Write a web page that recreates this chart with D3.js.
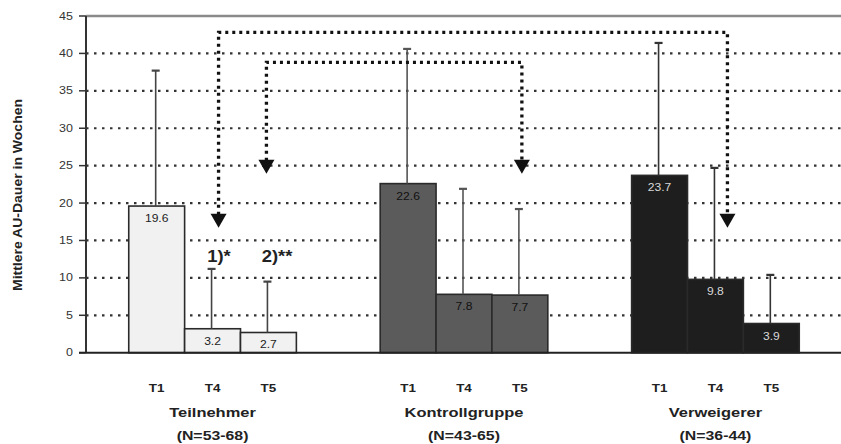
<!DOCTYPE html>
<html lang="de">
<head>
<meta charset="UTF-8">
<script src="https://cdn.jsdelivr.net/npm/d3@7"></script>
<style>
  body { margin: 0; background: #fff; }
  svg { display: block; font-family: "Liberation Sans", Arial, sans-serif; }
</style>
</head>
<body>
<script>
// data
var groups = ["Teilnehmer", "Kontrollgruppe", "Verweigerer"];
var groupN = ["(N=53-68)", "(N=43-65)", "(N=36-44)"];
var times = ["T1", "T4", "T5"];
var teilnehmer = [19.6, 3.2, 2.7];
var kontrollgruppe = [22.6, 7.8, 7.7];
var verweigerer = [23.7, 9.8, 3.9];
var teilnehmerSD = [18.1, 8.0, 6.8];
var kontrollgruppeSD = [18.0, 14.1, 11.5];
var verweigererSD = [17.7, 14.9, 6.5];
var yTicks = [0, 5, 10, 15, 20, 25, 30, 35, 40, 45];

var width = 841, height = 444,
    plotLeft = 86, plotRight = 842, plotTop = 16, plotBottom = 352.7,
    sx = 1.22; // text in the picture is stretched sideways

var values = [teilnehmer, kontrollgruppe, verweigerer],
    sds = [teilnehmerSD, kontrollgruppeSD, verweigererSD],
    fills = ["#f1f1f1", "#5b5b5b", "#1e1e1e"],
    labelColors = ["#222", "#111", "#d8d8d8"],
    whiskerColors = ["#444", "#555", "#333"];

var svg = d3.select("body").append("svg").attr("width", width).attr("height", height);

var x0 = d3.scaleBand().domain(groups).range([plotLeft, plotRight]).paddingInner(1 / 3).paddingOuter(0.17);
var x1 = d3.scaleBand().domain(times).range([0, x0.bandwidth()]);
var y = d3.scaleLinear().domain([0, 45]).range([plotBottom, plotTop]);

// grid
svg.append("g").selectAll("line").data(yTicks.filter(function(d){ return d > 0 && d < 45 }))
  .enter().append("line")
    .attr("x1", plotLeft).attr("x2", width)
    .attr("y1", function(d){ return y(d) }).attr("y2", function(d){ return y(d) })
    .attr("stroke", "#333").attr("stroke-width", 2.2).attr("stroke-dasharray", "2.5,5.5");

// top frame line
svg.append("line").attr("x1", plotLeft).attr("x2", width).attr("y1", y(45)).attr("y2", y(45))
  .attr("stroke", "#8a8a8a").attr("stroke-width", 2.5);

// y axis ticks + labels
var yAxis = svg.append("g");
yTicks.forEach(function(t) {
  yAxis.append("line").attr("x1", plotLeft - 7).attr("x2", plotLeft).attr("y1", y(t)).attr("y2", y(t))
    .attr("stroke", "#333").attr("stroke-width", 1.5);
  yAxis.append("text").attr("transform", "translate(" + (plotLeft - 13) + "," + (y(t) + 3.5) + ") scale(1.25,1)")
    .attr("font-size", 10).attr("text-anchor", "end").attr("fill", "#333").text(t);
});

// bars
var gGroups = svg.selectAll(".grp").data(groups).enter().append("g")
  .attr("class", "grp")
  .attr("transform", function(d){ return "translate(" + x0(d) + ",0)" });

gGroups.each(function(g, gi) {
  var sel = d3.select(this);
  var rows = times.map(function(t, ti){ return {t: t, v: values[gi][ti], sd: sds[gi][ti]} });

  sel.selectAll("rect").data(rows).enter().append("rect")
    .attr("x", function(d){ return x1(d.t) })
    .attr("y", function(d){ return y(d.v) })
    .attr("width", x1.bandwidth())
    .attr("height", function(d){ return y(0) - y(d.v) })
    .attr("fill", fills[gi]).attr("stroke", "#2a2a2a").attr("stroke-width", 1.6);

  // upper error bars
  sel.selectAll(".err").data(rows).enter().append("line")
    .attr("x1", function(d){ return x1(d.t) + x1.bandwidth() / 2 - 1 })
    .attr("x2", function(d){ return x1(d.t) + x1.bandwidth() / 2 - 1 })
    .attr("y1", function(d){ return y(d.v) })
    .attr("y2", function(d){ return y(d.v + d.sd) })
    .attr("stroke", whiskerColors[gi]).attr("stroke-width", 1.6);
  sel.selectAll(".cap").data(rows).enter().append("line")
    .attr("x1", function(d){ return x1(d.t) + x1.bandwidth() / 2 - 5 })
    .attr("x2", function(d){ return x1(d.t) + x1.bandwidth() / 2 + 3 })
    .attr("y1", function(d){ return y(d.v + d.sd) })
    .attr("y2", function(d){ return y(d.v + d.sd) })
    .attr("stroke", whiskerColors[gi]).attr("stroke-width", 2.2);

  // value labels
  sel.selectAll(".val").data(rows).enter().append("text")
    .attr("transform", function(d){ return "translate(" + (x1(d.t) + x1.bandwidth() / 2) + "," + (y(d.v) + 16) + ") scale(1.1,1)" })
    .attr("font-size", 11).attr("text-anchor", "middle").attr("fill", labelColors[gi])
    .text(function(d){ return d.v.toFixed(1) });

  // time labels
  sel.selectAll(".tl").data(times).enter().append("text")
    .attr("transform", function(d){ return "translate(" + (x1(d) + x1.bandwidth() / 2) + ",392) scale(" + sx + ",1)" })
    .attr("font-size", 11).attr("font-weight", "bold").attr("text-anchor", "middle").attr("fill", "#222")
    .text(function(d){ return d });

  sel.append("text")
    .attr("transform", "translate(" + (x0.bandwidth() / 2) + ",417) scale(" + sx + ",1)")
    .attr("font-size", 13.5).attr("font-weight", "bold").attr("text-anchor", "middle").attr("fill", "#222")
    .text(g);
  sel.append("text")
    .attr("transform", "translate(" + (x0.bandwidth() / 2) + ",440) scale(" + sx + ",1)")
    .attr("font-size", 13).attr("font-weight", "bold").attr("text-anchor", "middle").attr("fill", "#222")
    .text(groupN[gi]);
});

// axes lines
svg.append("line").attr("x1", plotLeft).attr("x2", plotLeft).attr("y1", y(45)).attr("y2", y(0))
  .attr("stroke", "#333").attr("stroke-width", 2);
svg.append("line").attr("x1", plotLeft - 7).attr("x2", width).attr("y1", y(0)).attr("y2", y(0))
  .attr("stroke", "#222").attr("stroke-width", 2);

// dotted comparison arrows: group/time index, pixel nudge, level and tip values
var arrows = [
  {from: [0, 1], fdx: 6, to: [2, 1], tdx: 12, level: 42.8, tip: 16.7},
  {from: [0, 2], fdx: -2, to: [1, 2], tdx: 2, level: 38.8, tip: 23.9}
];
function cx(gt, dx) { return x0(groups[gt[0]]) + x1(times[gt[1]]) + x1.bandwidth() / 2 + dx; }
arrows.forEach(function(a) {
  var xa = cx(a.from, a.fdx), xb = cx(a.to, a.tdx), yl = y(a.level), yt = y(a.tip);
  svg.append("path")
    .attr("d", "M" + xa + "," + (yt - 13) + "V" + yl + "H" + xb + "V" + (yt - 13))
    .attr("fill", "none").attr("stroke", "#111").attr("stroke-width", 3.3).attr("stroke-dasharray", "3,4");
  [xa, xb].forEach(function(xx) {
    svg.append("path")
      .attr("d", "M" + (xx - 8) + "," + (yt - 14) + "L" + (xx + 8) + "," + (yt - 14) + "L" + xx + "," + yt + "Z")
      .attr("fill", "#111");
  });
});

// significance notes
svg.append("text").attr("transform", "translate(219,262) scale(1.15,1)")
  .attr("font-size", 16).attr("font-weight", "bold").attr("text-anchor", "middle").attr("fill", "#222").text("1)*");
svg.append("text").attr("transform", "translate(277,262) scale(1.15,1)")
  .attr("font-size", 16).attr("font-weight", "bold").attr("text-anchor", "middle").attr("fill", "#222").text("2)**");

// y title
svg.append("text").attr("transform", "translate(22,195) rotate(-90) scale(1.12,1)")
  .attr("font-size", 12.5).attr("font-weight", "bold").attr("text-anchor", "middle").attr("fill", "#222")
  .text("Mittlere AU-Dauer in Wochen");
</script>
</body>
</html>
